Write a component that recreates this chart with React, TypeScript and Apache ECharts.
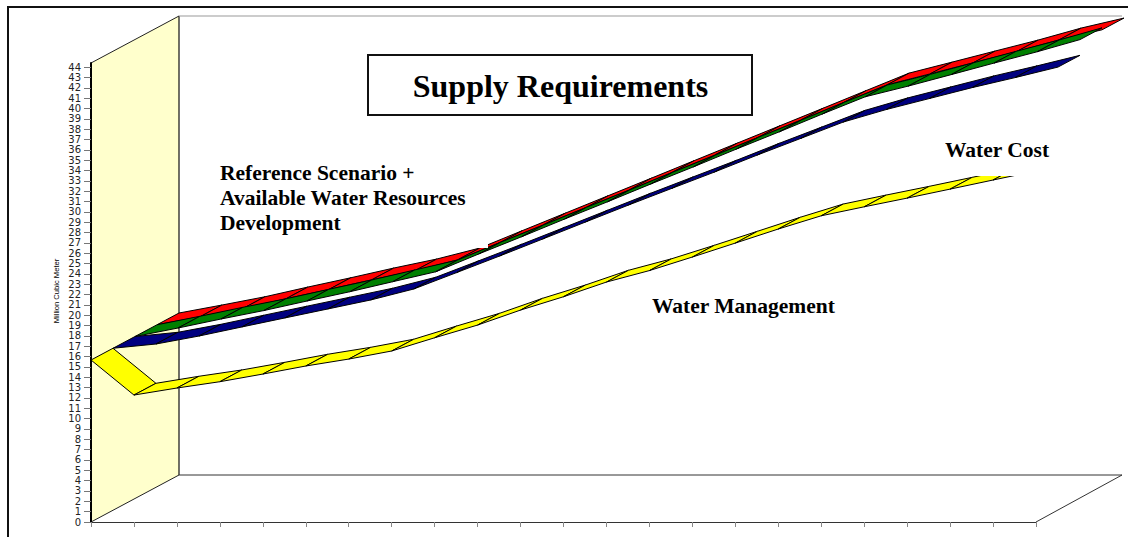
import React, { useEffect, useRef } from "react";
import * as echarts from "echarts";

const categories = ["1","2","3","4","5","6","7","8","9","10","11","12","13","14","15","16","17","18","19","20","21","22","23"];
const yTicks = [0,1,2,3,4,5,6,7,8,9,10,11,12,13,14,15,16,17,18,19,20,21,22,23,24,25,26,27,28,29,30,31,32,33,34,35,36,37,38,39,40,41,42,43,44];

const waterCost = [15.67,12.28,12.96,13.57,14.31,15.09,15.76,16.54,17.82,19.05,20.5,21.79,23.21,24.32,25.63,26.98,28.34,29.62,30.49,31.33,32.2,33.08,33.95];
const waterManagement = [15.67,16.08,16.85,17.73,18.6,19.47,20.34,21.4,22.99,24.59,26.23,27.88,29.52,31.12,32.71,34.36,35.95,37.55,38.76,39.82,40.88,41.85,42.87];
const availableResources = [15.67,16.49,17.36,18.18,19.1,20.0,20.97,21.93,23.65,25.32,27.03,28.7,30.41,32.08,33.8,35.47,37.19,38.86,39.89,41.0,42.12,43.21,44.39];
const referenceScenario = [15.67,16.44,17.24,18.18,19.08,20.02,20.89,21.95,23.65,25.34,27.03,28.72,30.42,32.11,33.8,35.49,37.19,38.88,39.94,41.01,42.07,43.23,44.2];

const AXIS_MAX = 44.4;
const DEPTH_X = 88;
const DEPTH_Y = -47;
const SLOTS = 4;
const SERIF = "'Liberation Serif','Times New Roman',serif";

function ribbon(name: string, values: number[], color: string, slot: number, z: number) {
  const sx = DEPTH_X / SLOTS;
  const sy = DEPTH_Y / SLOTS;
  return {
    type: "custom",
    name,
    z,
    clip: false,
    silent: true,
    data: values.map((v, i) => [i, v]),
    encode: { x: 0, y: 1 },
    renderItem(params: any, api: any) {
      const k = params.dataIndex;
      if (k >= values.length - 1) return null;
      const a = api.coord([k, values[k]]);
      const b = api.coord([k + 1, values[k + 1]]);
      const pt = (p: number[], n: number) => [p[0] + sx * n, p[1] + sy * n];
      return {
        type: "polygon",
        shape: { points: [pt(a, slot), pt(b, slot), pt(b, slot + 1), pt(a, slot + 1)] },
        style: { fill: color, stroke: "#000", lineWidth: 1 },
      };
    },
  };
}

const frameSeries = {
  type: "custom",
  name: "frame",
  z: 1,
  clip: false,
  silent: true,
  data: [[0, 0]],
  encode: { x: 0, y: 1 },
  renderItem(_: any, api: any) {
    const o = api.coord([0, 0]);
    const t = api.coord([0, AXIS_MAX]);
    const r = api.coord([categories.length - 1, 0]);
    const bx = o[0] + DEPTH_X;
    const by = o[1] + DEPTH_Y;
    const ty = t[1] + DEPTH_Y;
    const rx = r[0] + DEPTH_X;
    const seg = (x1: number, y1: number, x2: number, y2: number, stroke: string, lineWidth: number) => ({
      type: "line",
      shape: { x1, y1, x2, y2 },
      style: { stroke, lineWidth },
    });
    return {
      type: "group",
      children: [
        {
          type: "polygon",
          shape: { points: [[o[0], o[1]], [t[0], t[1]], [bx, ty], [bx, by]] },
          style: { fill: "#FFFFCC", stroke: "none" },
        },
        seg(o[0], o[1], bx, by, "#222", 1),
        seg(t[0], t[1], bx, ty, "#222", 1),
        seg(bx, by, bx, ty, "#222", 1.3),
        seg(bx, ty, rx - 2, ty, "#999", 1),
        seg(bx, by, rx - 2, by, "#333", 1),
        seg(r[0], r[1], rx - 2, by, "#333", 1),
      ],
    };
  },
};

function label(text: string, x: number, y: number, size: number) {
  return {
    type: "text",
    z: 30,
    x,
    y,
    style: { text, fill: "#000", font: `bold ${size}px ${SERIF}`, textVerticalAlign: "middle" },
  };
}

export default function App() {
  const ref = useRef<HTMLDivElement>(null);
  useEffect(() => {
    document.body.style.margin = "0";
    const chart = echarts.init(ref.current!, undefined, { renderer: "svg" });
    chart.setOption({
      animation: false,
      backgroundColor: "#fff",
      grid: { left: 91, right: 92, top: 63, bottom: 15, containLabel: false },
      xAxis: {
        type: "category",
        data: categories,
        boundaryGap: false,
        z: 3,
        axisLine: { lineStyle: { color: "#333", width: 1 } },
        axisTick: { show: true, interval: 0, length: 5, lineStyle: { color: "#888", width: 1 } },
        axisLabel: { show: false },
        splitLine: { show: false },
      },
      yAxis: {
        type: "value",
        min: 0,
        max: AXIS_MAX,
        z: 3,
        axisLine: { show: true, lineStyle: { color: "#000", width: 2 } },
        axisTick: { show: true, length: 7, customValues: yTicks, lineStyle: { color: "#777", width: 1 } },
        axisLabel: {
          show: true,
          customValues: yTicks,
          margin: 10,
          fontFamily: "'DejaVu Sans',sans-serif",
          fontSize: 10,
          color: "#222",
        },
        splitLine: { show: false },
      },
      series: [
        frameSeries,
        ribbon("Reference Scenario", referenceScenario, "#FF0000", 3, 4),
        ribbon("Available Water Resources Development", availableResources, "#008000", 2, 5),
        ribbon("Water Management", waterManagement, "#000080", 1, 6),
        ribbon("Water Cost", waterCost, "#FFFF00", 0, 7),
      ],
      graphic: [
        { type: "rect", z: 20, shape: { x: 210, y: 150, width: 278, height: 98 }, style: { fill: "#fff", stroke: "none" } },
        { type: "rect", z: 20, shape: { x: 935, y: 135, width: 127, height: 41 }, style: { fill: "#fff", stroke: "none" } },
        { type: "polyline", z: 30, shape: { points: [[8, 537], [8, 7], [1128, 7]] }, style: { fill: "none", stroke: "#111", lineWidth: 2 } },
        { type: "rect", z: 25, shape: { x: 368, y: 55, width: 384, height: 60 }, style: { fill: "#fff", stroke: "#111", lineWidth: 2 } },
        {
          type: "text", z: 30, x: 560.5, y: 86,
          style: { text: "Supply Requirements", fill: "#000", font: `bold 32px ${SERIF}`, textAlign: "center", textVerticalAlign: "middle" },
        },
        label("Reference Scenario +", 220, 173, 21.5),
        label("Available Water Resources", 220, 198, 21.5),
        label("Development", 220, 223, 21.5),
        label("Water Management", 652, 306, 21.5),
        label("Water Cost", 945, 150, 21.5),
        {
          type: "text", z: 30, x: 56, y: 291, rotation: Math.PI / 2,
          style: { text: "Million Cubic Meter", fill: "#000", font: "7.6px 'Liberation Sans',sans-serif", textAlign: "center", textVerticalAlign: "middle" },
        },
      ],
    });
    return () => chart.dispose();
  }, []);
  return <div ref={ref} style={{ width: 1128, height: 537 }} />;
}
